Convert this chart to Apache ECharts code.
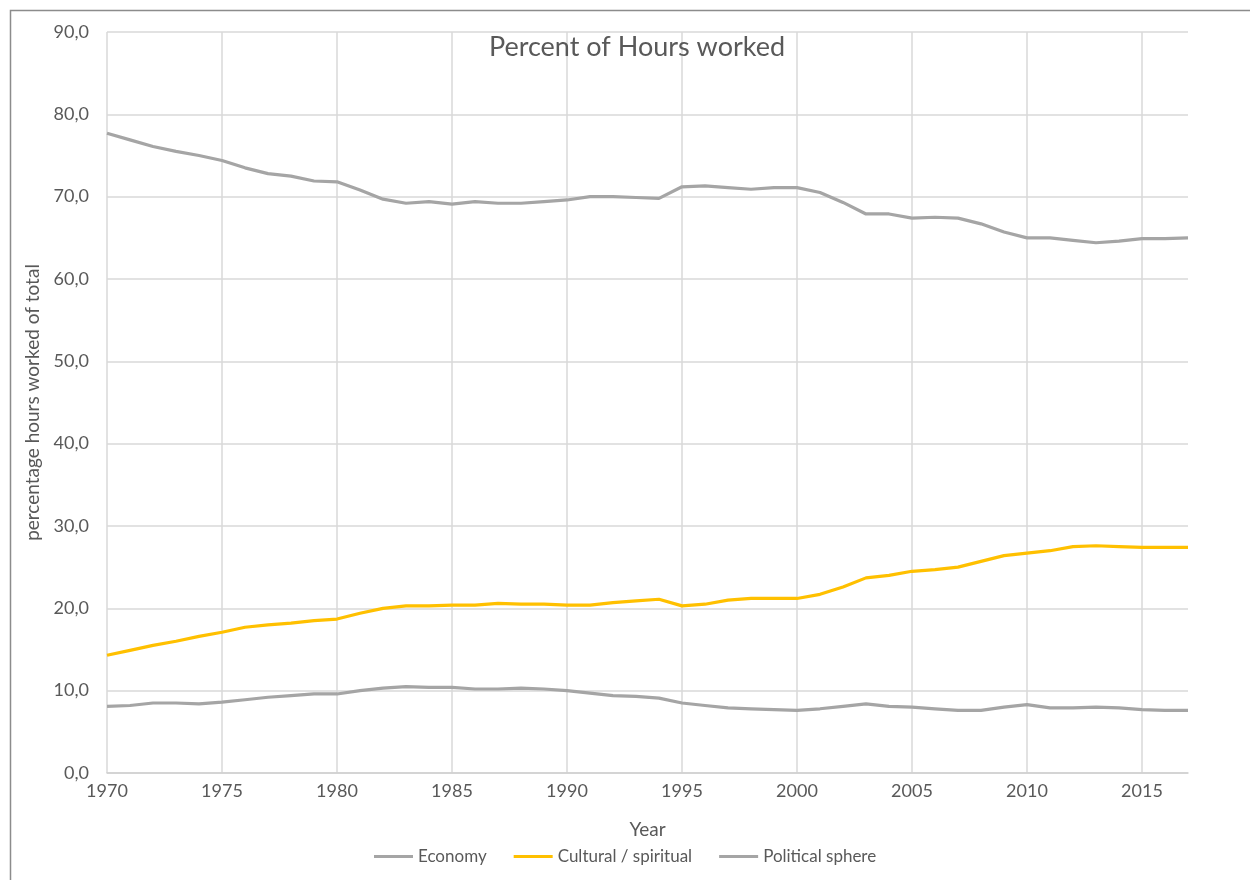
<!DOCTYPE html>
<html>
<head>
    <meta charset="UTF-8">
    <title>Percent of Hours worked</title>
    <script src="https://cdn.jsdelivr.net/npm/echarts@6/dist/echarts.min.js"></script>
    <style>
        html, body { margin: 0; padding: 0; background: #fff; }
        #myChart { width: 1250px; height: 880px; }
    </style>
</head>
<body>
<div id="myChart"></div>
<script>
// data
var years = [];
for (var y = 1970; y <= 2017; y++) { years.push(String(y)); }

var economy = [
    77.7, 76.9, 76.1, 75.5, 75.0, 74.4, 73.5, 72.8, 72.5, 71.9,
    71.8, 70.8, 69.7, 69.2, 69.4, 69.1, 69.4, 69.2, 69.2, 69.4,
    69.6, 70.0, 70.0, 69.9, 69.8, 71.2, 71.3, 71.1, 70.9, 71.1,
    71.1, 70.5, 69.3, 67.9, 67.9, 67.4, 67.5, 67.4, 66.7, 65.7,
    65.0, 65.0, 64.7, 64.4, 64.6, 64.9, 64.9, 65.0
];
var cultural = [
    14.3, 14.9, 15.5, 16.0, 16.6, 17.1, 17.7, 18.0, 18.2, 18.5,
    18.7, 19.4, 20.0, 20.3, 20.3, 20.4, 20.4, 20.6, 20.5, 20.5,
    20.4, 20.4, 20.7, 20.9, 21.1, 20.3, 20.5, 21.0, 21.2, 21.2,
    21.2, 21.7, 22.6, 23.7, 24.0, 24.5, 24.7, 25.0, 25.7, 26.4,
    26.7, 27.0, 27.5, 27.6, 27.5, 27.4, 27.4, 27.4
];
var political = [
    8.1, 8.2, 8.5, 8.5, 8.4, 8.6, 8.9, 9.2, 9.4, 9.6,
    9.6, 10.0, 10.3, 10.5, 10.4, 10.4, 10.2, 10.2, 10.3, 10.2,
    10.0, 9.7, 9.4, 9.3, 9.1, 8.5, 8.2, 7.9, 7.8, 7.7,
    7.6, 7.8, 8.1, 8.4, 8.1, 8.0, 7.8, 7.6, 7.6, 8.0,
    8.3, 7.9, 7.9, 8.0, 7.9, 7.7, 7.6, 7.6
];

var textColor = '#595959';
var gridColor = '#d9d9d9';
var fontFam = 'Lato, "Open Sans", sans-serif';

var chart_myChart = echarts.init(document.getElementById('myChart'), null, {renderer: 'canvas'});

function lineSeries(name, data, color) {
    return {
        name: name,
        type: 'line',
        data: data,
        symbol: 'none',
        smooth: false,
        lineStyle: { color: color, width: 3.2 },
        itemStyle: { color: color },
        animation: false
    };
}

var option = {
    backgroundColor: '#fff',
    textStyle: { fontFamily: fontFam },
    // outer frame like the spreadsheet chart area
    graphic: [{
        type: 'rect',
        left: 8, top: 8,
        shape: { width: 1300, height: 900 },
        style: { fill: 'none', stroke: '#8c8c8c', lineWidth: 1.5 },
        silent: true
    }],
    title: {
        text: 'Percent of Hours worked',
        left: 632,
        textAlign: 'center',
        top: 29,
        textStyle: { fontSize: 27, fontWeight: 'normal', color: textColor, fontFamily: fontFam }
    },
    legend: {
        top: 843,
        left: 369,
        icon: 'rect',
        itemWidth: 39,
        itemHeight: 3,
        itemGap: 27,
        textStyle: { fontSize: 17, color: textColor, fontFamily: fontFam },
        data: ['Economy', 'Cultural / spiritual', 'Political sphere']
    },
    grid: { left: 107, right: 62, top: 32, bottom: 107 },
    xAxis: {
        type: 'category',
        data: years,
        boundaryGap: false,
        name: 'Year',
        nameLocation: 'middle',
        nameGap: 47,
        nameTextStyle: { fontSize: 19, color: textColor },
        axisLine: { lineStyle: { color: '#d0d0d0', width: 1.5 } },
        axisTick: { show: false },
        axisLabel: { interval: 4, fontSize: 18, color: textColor, margin: 9 },
        splitLine: { show: true, interval: 4, lineStyle: { color: gridColor, width: 1.5 } }
    },
    yAxis: {
        type: 'value',
        min: 0, max: 90, interval: 10,
        name: 'percentage hours worked of total',
        nameLocation: 'middle',
        nameGap: 62,
        nameTextStyle: { fontSize: 19, color: textColor },
        axisLine: { show: false },
        axisTick: { show: false },
        axisLabel: {
            fontSize: 18, color: textColor, margin: 18,
            formatter: function (v) { return v.toFixed(1).replace('.', ','); }
        },
        splitLine: { lineStyle: { color: gridColor, width: 1.5 } }
    },
    series: [
        lineSeries('Economy', economy, '#a5a5a5'),
        lineSeries('Cultural / spiritual', cultural, '#ffc000'),
        lineSeries('Political sphere', political, '#a5a5a5')
    ]
};

chart_myChart.setOption(option);
</script>
</body>
</html>
